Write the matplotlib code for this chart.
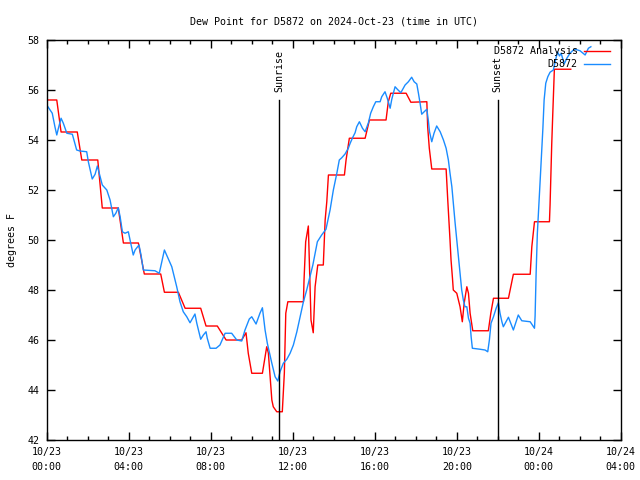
"""
Dew point chart for station D5872, gnuplot look-alike.
"""
import matplotlib
matplotlib.use('Agg')
import matplotlib.pyplot as plt

# hours since 2024-10-23 00:00 UTC, dew point in F
analysis_hours = [0.00, 0.49, 0.70, 1.49, 1.71, 2.49, 2.71, 3.49, 3.74, 4.47,
                  4.76, 5.56, 5.74, 6.42, 6.75, 7.51, 7.77, 8.32, 8.75, 9.51,
                  9.72, 9.83, 10.00, 10.52, 10.73, 10.81, 10.89, 10.98, 11.05, 11.22,
                  11.49, 11.59, 11.66, 11.76, 12.52, 12.55, 12.63, 12.76, 12.89, 13.00,
                  13.09, 13.22, 13.49, 13.58, 13.66, 13.74, 14.52, 14.60, 14.76, 15.53,
                  15.74, 16.55, 16.66, 16.78, 17.53, 17.76, 18.54, 18.58, 18.66, 18.78,
                  19.48, 19.56, 19.67, 19.72, 19.79, 19.83, 20.00, 20.16, 20.27, 20.36,
                  20.49, 20.57, 20.65, 20.78, 21.54, 21.66, 21.79, 22.52, 22.76, 23.58,
                  23.66, 23.79, 24.52, 24.55, 24.63, 24.68, 24.76, 25.56]
analysis_dewpt = [55.60, 55.60, 54.32, 54.32, 53.20, 53.20, 51.28, 51.28, 49.88, 49.88,
                  48.64, 48.64, 47.91, 47.91, 47.27, 47.27, 46.56, 46.56, 46.00, 46.00,
                  46.29, 45.47, 44.67, 44.67, 45.73, 45.48, 44.60, 43.60, 43.33, 43.13,
                  43.13, 44.68, 47.07, 47.53, 47.53, 48.40, 49.93, 50.56, 46.80, 46.29,
                  48.13, 49.00, 49.00, 50.80, 51.53, 52.60, 52.60, 53.20, 54.07, 54.07,
                  54.80, 54.80, 55.53, 55.87, 55.87, 55.51, 55.53, 54.53, 53.67, 52.84,
                  52.84, 51.60, 50.00, 49.20, 48.47, 48.00, 47.87, 47.33, 46.73, 47.47,
                  48.13, 47.87, 47.07, 46.37, 46.37, 47.07, 47.67, 47.67, 48.63, 48.63,
                  49.73, 50.73, 50.73, 51.40, 53.80, 55.00, 56.83, 56.83]

obs_hours = [0.00, 0.16, 0.27, 0.40, 0.49, 0.57, 0.70, 0.81, 0.98, 1.25,
             1.46, 1.62, 1.95, 2.03, 2.22, 2.36, 2.47, 2.57, 2.71, 2.93,
             3.09, 3.25, 3.37, 3.49, 3.58, 3.69, 3.82, 3.98, 4.10, 4.22,
             4.31, 4.50, 4.60, 4.71, 5.28, 5.49, 5.74, 6.10, 6.34, 6.50,
             6.66, 6.83, 6.99, 7.23, 7.32, 7.51, 7.64, 7.77, 7.83, 7.97,
             8.26, 8.45, 8.70, 9.02, 9.27, 9.51, 9.67, 9.88, 10.00, 10.21,
             10.40, 10.52, 10.65, 10.76, 10.98, 11.14, 11.27, 11.38, 11.54, 11.71,
             11.87, 12.03, 12.20, 12.36, 12.52, 12.68, 12.84, 12.98, 13.09, 13.20,
             13.41, 13.62, 13.82, 13.98, 14.15, 14.27, 14.39, 14.55, 14.71, 14.80,
             14.93, 15.04, 15.12, 15.25, 15.40, 15.53, 15.69, 15.80, 15.93, 16.05,
             16.26, 16.34, 16.50, 16.61, 16.75, 16.83, 16.99, 17.10, 17.27, 17.48,
             17.64, 17.80, 17.92, 18.05, 18.13, 18.21, 18.29, 18.41, 18.54, 18.62,
             18.67, 18.78, 18.89, 19.02, 19.19, 19.35, 19.48, 19.59, 19.67, 19.76,
             19.83, 19.92, 20.00, 20.08, 20.16, 20.24, 20.32, 20.40, 20.49, 20.57,
             20.65, 20.70, 20.76, 21.14, 21.38, 21.51, 21.59, 21.67, 21.79, 21.92,
             22.03, 22.11, 22.20, 22.27, 22.52, 22.76, 23.00, 23.17, 23.58, 23.79,
             23.82, 23.87, 23.93, 24.01, 24.06, 24.15, 24.20, 24.26, 24.34, 24.44,
             24.55, 24.71, 24.80, 24.91, 25.01, 25.09, 25.24, 25.37, 25.52, 25.69,
             25.77, 26.01, 26.26, 26.42, 26.54]
obs_dewpt = [55.40, 55.20, 55.07, 54.53, 54.20, 54.47, 54.87, 54.67, 54.27, 54.23,
             53.60, 53.56, 53.53, 53.13, 52.44, 52.63, 52.96, 52.64, 52.20, 52.00,
             51.60, 50.93, 51.07, 51.29, 50.93, 50.33, 50.27, 50.33, 49.87, 49.40,
             49.60, 49.80, 49.40, 48.80, 48.77, 48.67, 49.60, 48.93, 48.13, 47.53,
             47.13, 46.93, 46.69, 47.04, 46.67, 46.03, 46.20, 46.33, 46.07, 45.67,
             45.67, 45.80, 46.27, 46.27, 46.00, 45.96, 46.40, 46.84, 46.93, 46.64,
             47.07, 47.29, 46.40, 45.87, 45.07, 44.53, 44.36, 44.73, 45.07, 45.23,
             45.47, 45.80, 46.33, 46.93, 47.53, 48.00, 48.53, 49.00, 49.47, 49.93,
             50.20, 50.43, 51.20, 52.00, 52.67, 53.20, 53.29, 53.44, 53.67, 53.87,
             54.11, 54.29, 54.53, 54.73, 54.47, 54.33, 54.69, 55.07, 55.33, 55.53,
             55.53, 55.73, 55.93, 55.67, 55.27, 55.63, 56.13, 56.03, 55.89, 56.20,
             56.33, 56.51, 56.33, 56.24, 55.87, 55.47, 55.03, 55.13, 55.23, 54.73,
             54.33, 53.93, 54.27, 54.56, 54.33, 54.00, 53.67, 53.20, 52.67, 52.13,
             51.47, 50.67, 50.00, 49.33, 48.67, 48.00, 47.60, 47.33, 47.33, 46.87,
             46.67, 46.13, 45.67, 45.63, 45.60, 45.53, 46.00, 46.67, 46.93, 47.27,
             47.49, 47.07, 46.73, 46.53, 46.91, 46.40, 47.00, 46.77, 46.73, 46.47,
             46.96, 48.67, 50.27, 51.47, 52.27, 53.67, 54.47, 55.60, 56.27, 56.53,
             56.71, 56.80, 57.13, 57.53, 57.36, 57.47, 57.04, 57.27, 57.47, 57.60,
             57.63, 57.57, 57.40, 57.67, 57.73]

sunrise_hour = 11.35
sunset_hour = 22.0

major_hours = [0, 4, 8, 12, 16, 20, 24, 28]
major_labels = ['10/23\n00:00', '10/23\n04:00', '10/23\n08:00', '10/23\n12:00',
                '10/23\n16:00', '10/23\n20:00', '10/24\n00:00', '10/24\n04:00']
y_ticks = [42, 44, 46, 48, 50, 52, 54, 56, 58]

font = 'DejaVu Sans Mono'
fs = 7.2

fig = plt.figure(figsize=(6.4, 4.8), dpi=100)
ax = fig.add_axes([0.073, 0.0833, 0.897, 0.8334])

ax.plot(analysis_hours, analysis_dewpt, color='#ff0000', lw=1.0, label='D5872 Analysis')
ax.plot(obs_hours, obs_dewpt, color='#1a8cff', lw=1.0, label='D5872')

# sunrise / sunset markers
for hr, name in [(sunrise_hour, 'Sunrise'), (sunset_hour, 'Sunset')]:
    ax.axvline(hr, ymin=0, ymax=0.85, color='black', lw=1.0)
    ax.text(hr, 55.92, name, rotation=90, ha='center', va='bottom',
            family=font, fontsize=fs)

ax.set_xlim(0, 28)
ax.set_ylim(42, 58)
ax.set_xticks(major_hours)
ax.set_xticklabels(major_labels, family=font, fontsize=fs, linespacing=1.6)
ax.set_xticks(range(0, 29), minor=True)
ax.set_yticks(y_ticks)
ax.set_yticklabels([str(v) for v in y_ticks], family=font, fontsize=fs)
ax.tick_params(which='both', direction='in', top=True, right=True, width=1.0)
ax.tick_params(which='major', length=6, pad=5)
ax.tick_params(which='minor', length=3)
for s in ax.spines.values():
    s.set_linewidth(1.0)

ax.set_ylabel('degrees F', family=font, fontsize=fs, labelpad=8)
ax.set_title('Dew Point for D5872 on 2024-Oct-23 (time in UTC)',
             family=font, fontsize=fs, pad=11)

leg = ax.legend(loc='upper right', frameon=False, markerfirst=False,
                prop={'family': font, 'size': fs}, handlelength=2.6,
                handletextpad=0.6, labelspacing=0.28, borderaxespad=0.3,
                borderpad=0.35)
# legend right edge sits about 12 px inside the frame
leg.set_bbox_to_anchor((0.992, 1.0))

fig.savefig('out.png', dpi=100)
